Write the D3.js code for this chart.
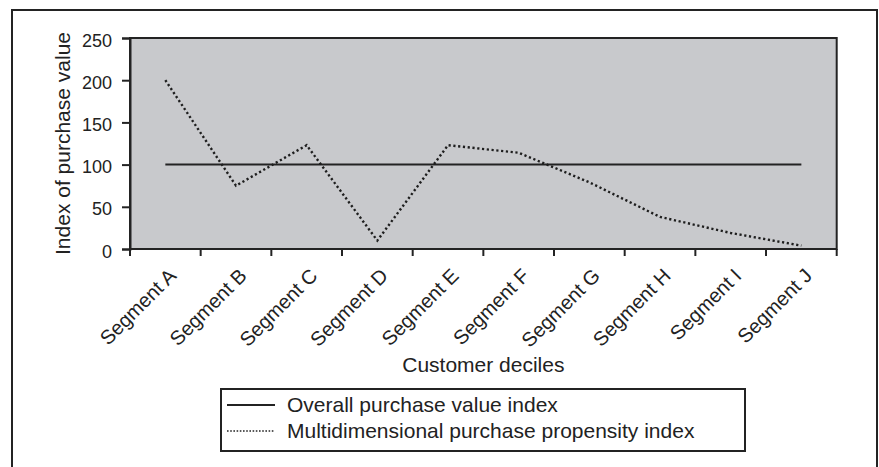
<!DOCTYPE html>
<meta charset='utf-8'>
<style>
    html, body {
        margin: 0;
        background: white;
    }

    svg text {
        font-family: 'Liberation Sans', Arial, sans-serif;
        fill: #222;
    }
</style>
<title>Index of purchase value by customer decile</title>
<body>

<script src='https://cdn.jsdelivr.net/npm/d3@7'></script>
<script>

	// data
	let segments = ['Segment A', 'Segment B', 'Segment C', 'Segment D', 'Segment E',
		'Segment F', 'Segment G', 'Segment H', 'Segment I', 'Segment J'];
	let overallIndex = [100, 100, 100, 100, 100, 100, 100, 100, 100, 100];
	let propensityIndex = [200, 75, 123, 10, 123, 114, 79, 38, 19, 4];
	let yTicks = [0, 50, 100, 150, 200, 250];
	let seriesNames = ['Overall purchase value index', 'Multidimensional purchase propensity index'];

	let W = 879, H = 467;
	let plot = {left: 130, top: 38, right: 836.7, bottom: 249};
	let ink = '#232323';

	let svg = d3.select('body').append('svg')
		.attr('width', W)
		.attr('height', H);

	// outer frame (bottom runs off the picture)
	svg.append('rect')
		.attr('x', 12).attr('y', 10)
		.attr('width', 865).attr('height', 480)
		.attr('fill', 'white')
		.attr('stroke', ink)
		.attr('stroke-width', 2);

	let x = d3.scaleBand()
		.domain(segments)
		.range([plot.left, plot.right]);

	let y = d3.scaleLinear()
		.domain([0, 250])
		.range([plot.bottom, plot.top]);

	// plot area
	svg.append('rect')
		.attr('x', plot.left).attr('y', plot.top)
		.attr('width', plot.right - plot.left)
		.attr('height', plot.bottom - plot.top)
		.attr('fill', '#c8c9cc')
		.attr('stroke', ink)
		.attr('stroke-width', 2);

	// y axis
	let yAxis = svg.append('g')
		.attr('transform', 'translate(' + plot.left + ',0)')
		.call(d3.axisLeft(y).tickValues(yTicks).tickSize(8).tickPadding(10));
	yAxis.select('.domain').attr('stroke', ink).attr('stroke-width', 2);
	yAxis.selectAll('.tick line').attr('stroke', ink).attr('stroke-width', 2);
	yAxis.selectAll('.tick text')
		.attr('font-size', 18)
		.attr('font-family', 'Liberation Sans, Arial, sans-serif')
		.attr('fill', '#222')
		.attr('dy', '0.45em');

	// x axis: ticks on the band edges
	let edges = segments.map(function (d) { return x(d); }).concat([plot.right]);
	svg.append('g').selectAll('line')
		.data(edges)
		.enter().append('line')
		.attr('x1', function (d) { return d; })
		.attr('x2', function (d) { return d; })
		.attr('y1', plot.bottom)
		.attr('y2', plot.bottom + 7)
		.attr('stroke', ink)
		.attr('stroke-width', 2);
	svg.append('line')
		.attr('x1', plot.left).attr('x2', plot.right)
		.attr('y1', plot.bottom).attr('y2', plot.bottom)
		.attr('stroke', ink).attr('stroke-width', 2);

	svg.append('g').selectAll('text')
		.data(segments)
		.enter().append('text')
		.attr('transform', function (d) {
			return 'translate(' + (x(d) + x.bandwidth() / 2 + 12) + ',' + (plot.bottom + 28) + ') rotate(-45)';
		})
		.attr('text-anchor', 'end')
		.attr('font-size', 20)
		.text(function (d) { return d; });

	// axis titles
	svg.append('text')
		.attr('transform', 'translate(70,' + ((plot.top + plot.bottom) / 2) + ') rotate(-90)')
		.attr('text-anchor', 'middle')
		.attr('font-size', 21)
		.text('Index of purchase value');

	svg.append('text')
		.attr('x', (plot.left + plot.right) / 2)
		.attr('y', 371.5)
		.attr('text-anchor', 'middle')
		.attr('font-size', 21)
		.text('Customer deciles');

	// lines
	let line = d3.line()
		.x(function (d, i) { return x(segments[i]) + x.bandwidth() / 2; })
		.y(function (d) { return y(d); });

	svg.append('path')
		.datum(overallIndex)
		.attr('d', line)
		.attr('fill', 'none')
		.attr('stroke', ink)
		.attr('stroke-width', 2);

	svg.append('path')
		.datum(propensityIndex)
		.attr('d', line)
		.attr('fill', 'none')
		.attr('stroke', '#1e1e1e')
		.attr('stroke-width', 2.4)
		.attr('stroke-dasharray', '2.2,2.6');

	// legend
	let legend = svg.append('g');
	legend.append('rect')
		.attr('x', 221).attr('y', 389)
		.attr('width', 524).attr('height', 62)
		.attr('fill', 'white')
		.attr('stroke', ink)
		.attr('stroke-width', 2);

	let rows = legend.selectAll('g.row')
		.data(seriesNames)
		.enter().append('g')
		.attr('class', 'row')
		.attr('transform', function (d, i) { return 'translate(0,' + (405 + i * 26) + ')'; });

	rows.append('line')
		.attr('x1', 227).attr('x2', 275)
		.attr('y1', 0).attr('y2', 0)
		.attr('stroke', ink)
		.attr('stroke-width', function (d, i) { return i ? 1.6 : 2; })
		.attr('stroke-dasharray', function (d, i) { return i ? '1.6,1.6' : null; });

	rows.append('text')
		.attr('x', 287)
		.attr('y', 6.5)
		.attr('font-size', 21)
		.text(function (d) { return d; });

</script>
</body>
